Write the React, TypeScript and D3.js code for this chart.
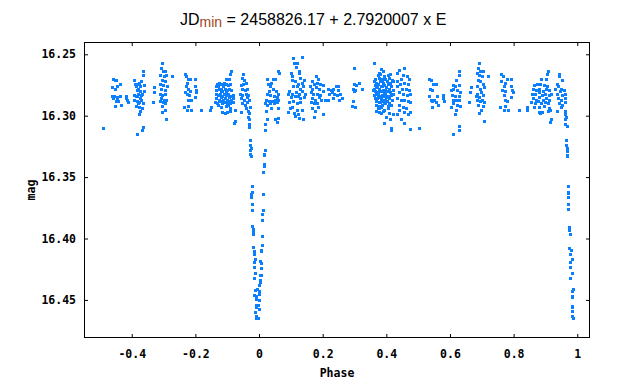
import { useEffect, useRef } from "react"
import * as d3 from "d3"

type Pt = [number, number]

const xTicks = [-0.4, -0.2, 0, 0.2, 0.4, 0.6, 0.8, 1]
const yTicks = [16.25, 16.3, 16.35, 16.4, 16.45]

// phase, mag
const westWing: Pt[] = [
  [-0.490, 16.310],
  [-0.460, 16.270], [-0.453, 16.271], [-0.448, 16.271], [-0.462, 16.277], [-0.454, 16.278],
  [-0.446, 16.276], [-0.438, 16.274], [-0.463, 16.284], [-0.459, 16.286], [-0.451, 16.288],
  [-0.446, 16.286], [-0.442, 16.288], [-0.436, 16.284], [-0.434, 16.291], [-0.452, 16.292],
  [-0.447, 16.285], [-0.457, 16.284], [-0.417, 16.284], [-0.415, 16.287], [-0.412, 16.289],
  [-0.419, 16.286],
  [-0.392, 16.271], [-0.385, 16.274], [-0.378, 16.273], [-0.371, 16.272], [-0.364, 16.264],
  [-0.366, 16.267], [-0.388, 16.276], [-0.381, 16.278], [-0.373, 16.276], [-0.362, 16.275],
  [-0.394, 16.283], [-0.386, 16.284], [-0.380, 16.282], [-0.375, 16.286], [-0.367, 16.282],
  [-0.360, 16.280], [-0.392, 16.287], [-0.383, 16.288], [-0.377, 16.289], [-0.371, 16.287],
  [-0.364, 16.290], [-0.388, 16.292], [-0.378, 16.293], [-0.367, 16.294], [-0.375, 16.296],
  [-0.377, 16.299], [-0.385, 16.284], [-0.383, 16.279], [-0.373, 16.280], [-0.366, 16.309],
  [-0.367, 16.312], [-0.383, 16.315], [-0.391, 16.274], [-0.370, 16.283], [-0.381, 16.290],
  [-0.331, 16.277], [-0.331, 16.281], [-0.334, 16.289],
  [-0.305, 16.257], [-0.308, 16.261], [-0.301, 16.264], [-0.294, 16.264], [-0.310, 16.267],
  [-0.299, 16.268], [-0.291, 16.267], [-0.305, 16.271], [-0.297, 16.272], [-0.310, 16.274],
  [-0.301, 16.275], [-0.289, 16.276], [-0.307, 16.278], [-0.296, 16.279], [-0.312, 16.282],
  [-0.304, 16.283], [-0.294, 16.282], [-0.308, 16.286], [-0.299, 16.287], [-0.291, 16.287],
  [-0.310, 16.288], [-0.301, 16.289], [-0.294, 16.290], [-0.306, 16.292], [-0.297, 16.295],
  [-0.304, 16.297], [-0.292, 16.303], [-0.273, 16.268],
  [-0.233, 16.266], [-0.230, 16.268], [-0.224, 16.270], [-0.226, 16.273], [-0.218, 16.270],
  [-0.202, 16.270], [-0.231, 16.276], [-0.224, 16.278], [-0.218, 16.280], [-0.200, 16.276],
  [-0.199, 16.279], [-0.197, 16.281], [-0.233, 16.281], [-0.226, 16.282], [-0.221, 16.283],
  [-0.215, 16.287], [-0.223, 16.287], [-0.200, 16.285], [-0.236, 16.293], [-0.226, 16.295],
  [-0.213, 16.295], [-0.224, 16.292], [-0.182, 16.295], [-0.153, 16.295], [-0.151, 16.293],
]

const preEclipse: Pt[] = [
  [-0.136, 16.276], [-0.132, 16.274], [-0.125, 16.273], [-0.118, 16.274], [-0.111, 16.273],
  [-0.104, 16.274], [-0.097, 16.275], [-0.090, 16.274], [-0.134, 16.279], [-0.127, 16.278],
  [-0.121, 16.278], [-0.115, 16.280], [-0.108, 16.278], [-0.100, 16.279], [-0.094, 16.278],
  [-0.087, 16.279], [-0.136, 16.282], [-0.130, 16.283], [-0.123, 16.282], [-0.117, 16.284],
  [-0.111, 16.282], [-0.104, 16.283], [-0.097, 16.282], [-0.092, 16.284], [-0.083, 16.283],
  [-0.134, 16.286], [-0.126, 16.287], [-0.120, 16.285], [-0.113, 16.287], [-0.106, 16.286],
  [-0.100, 16.287], [-0.094, 16.285], [-0.088, 16.287], [-0.081, 16.286], [-0.138, 16.289],
  [-0.131, 16.290], [-0.123, 16.288], [-0.116, 16.290], [-0.110, 16.289], [-0.102, 16.290],
  [-0.096, 16.288], [-0.090, 16.290], [-0.083, 16.289], [-0.118, 16.293], [-0.104, 16.292],
  [-0.092, 16.294], [-0.087, 16.264], [-0.090, 16.266], [-0.105, 16.270], [-0.095, 16.270],
  [-0.100, 16.297], [-0.107, 16.298], [-0.115, 16.297], [-0.090, 16.296], [-0.076, 16.295],
  [-0.076, 16.304], [-0.079, 16.306], [-0.128, 16.276], [-0.113, 16.276], [-0.121, 16.280],
  [-0.105, 16.281], [-0.128, 16.291], [-0.097, 16.291],
  [-0.050, 16.266], [-0.055, 16.269], [-0.047, 16.271], [-0.058, 16.275], [-0.050, 16.274],
  [-0.041, 16.273], [-0.054, 16.278], [-0.045, 16.279], [-0.037, 16.278], [-0.060, 16.282],
  [-0.052, 16.283], [-0.041, 16.282], [-0.034, 16.283], [-0.057, 16.286], [-0.048, 16.287],
  [-0.039, 16.285], [-0.031, 16.287], [-0.055, 16.290], [-0.045, 16.291], [-0.037, 16.289],
  [-0.029, 16.293], [-0.041, 16.294], [-0.036, 16.296], [-0.031, 16.298], [-0.034, 16.301],
  [-0.031, 16.303], [-0.031, 16.307], [-0.031, 16.309], [-0.058, 16.297],
]

const primaryDip: Pt[] = [
  [-0.028, 16.320], [-0.028, 16.324], [-0.025, 16.326], [-0.027, 16.328], [-0.028, 16.331],
  [-0.025, 16.333], [-0.022, 16.357], [-0.022, 16.362], [-0.025, 16.364], [-0.025, 16.366],
  [-0.022, 16.372], [-0.022, 16.377], [-0.022, 16.390], [-0.018, 16.392], [-0.018, 16.394],
  [-0.018, 16.396], [-0.018, 16.407], [-0.015, 16.410], [-0.015, 16.413], [-0.012, 16.417],
  [-0.015, 16.419], [-0.015, 16.423], [-0.012, 16.428], [-0.015, 16.432], [-0.012, 16.442],
  [-0.006, 16.441], [0.000, 16.443], [0.000, 16.445], [-0.015, 16.446], [-0.010, 16.447],
  [-0.010, 16.449], [0.000, 16.450], [-0.010, 16.454], [-0.002, 16.454], [-0.011, 16.456],
  [0.000, 16.457], [-0.012, 16.460], [-0.010, 16.463], [-0.008, 16.465], [-0.004, 16.465],
  [0.019, 16.328], [0.016, 16.331], [0.016, 16.332], [0.016, 16.339], [0.016, 16.341],
  [0.013, 16.346], [0.013, 16.364], [0.013, 16.377], [0.010, 16.380], [0.010, 16.385],
  [0.010, 16.398], [0.010, 16.405], [0.007, 16.409], [0.007, 16.410], [0.004, 16.418],
  [0.007, 16.420], [0.007, 16.424], [0.004, 16.430], [0.007, 16.430], [0.004, 16.434],
  [0.004, 16.435], [0.000, 16.438],
]

const postEclipse: Pt[] = [
  [0.060, 16.264], [0.063, 16.265], [0.026, 16.270], [0.045, 16.270], [0.050, 16.270],
  [0.029, 16.274], [0.039, 16.273], [0.036, 16.276], [0.045, 16.278], [0.032, 16.280],
  [0.053, 16.280], [0.060, 16.282], [0.024, 16.282], [0.034, 16.283], [0.047, 16.284],
  [0.055, 16.285], [0.021, 16.287], [0.030, 16.288], [0.040, 16.288], [0.050, 16.287],
  [0.060, 16.287], [0.018, 16.290], [0.026, 16.291], [0.036, 16.290], [0.047, 16.290],
  [0.055, 16.289], [0.021, 16.296], [0.039, 16.294], [0.060, 16.294], [0.024, 16.303],
  [0.050, 16.303], [0.055, 16.305], [0.060, 16.302], [0.019, 16.307], [0.019, 16.312],
  [0.107, 16.253], [0.136, 16.252], [0.109, 16.257], [0.120, 16.257], [0.116, 16.260],
  [0.126, 16.264], [0.126, 16.265], [0.099, 16.265], [0.105, 16.268], [0.130, 16.269],
  [0.141, 16.271], [0.103, 16.271], [0.113, 16.272], [0.123, 16.274], [0.134, 16.273],
  [0.107, 16.276], [0.120, 16.276], [0.128, 16.278], [0.139, 16.276], [0.095, 16.280],
  [0.105, 16.282], [0.116, 16.281], [0.126, 16.282], [0.134, 16.280], [0.092, 16.282],
  [0.102, 16.285], [0.113, 16.284], [0.123, 16.284], [0.130, 16.286], [0.141, 16.285],
  [0.095, 16.289], [0.107, 16.288], [0.118, 16.290], [0.128, 16.289], [0.097, 16.294],
  [0.105, 16.293], [0.120, 16.295], [0.134, 16.295], [0.092, 16.297], [0.109, 16.298],
  [0.113, 16.300], [0.123, 16.299], [0.126, 16.302], [0.137, 16.303], [0.144, 16.282],
  [0.179, 16.268], [0.186, 16.270], [0.165, 16.272], [0.172, 16.274], [0.181, 16.273],
  [0.191, 16.274], [0.202, 16.275], [0.160, 16.276], [0.168, 16.278], [0.179, 16.277],
  [0.189, 16.278], [0.200, 16.280], [0.162, 16.281], [0.170, 16.282], [0.181, 16.282],
  [0.191, 16.283], [0.166, 16.286], [0.177, 16.287], [0.187, 16.285], [0.196, 16.287],
  [0.163, 16.289], [0.172, 16.290], [0.183, 16.290], [0.165, 16.294], [0.175, 16.296],
  [0.200, 16.299], [0.172, 16.301], [0.186, 16.293], [0.207, 16.287],
  [0.217, 16.278], [0.225, 16.279], [0.233, 16.278], [0.242, 16.276], [0.249, 16.279],
  [0.221, 16.282], [0.229, 16.281], [0.237, 16.282], [0.246, 16.283], [0.217, 16.287],
  [0.233, 16.286], [0.252, 16.287], [0.254, 16.282], [0.262, 16.286], [0.250, 16.287],
  [0.247, 16.276],
]

const midPhase: Pt[] = [
  [0.299, 16.261], [0.296, 16.288], [0.292, 16.292], [0.302, 16.293], [0.299, 16.274],
  [0.304, 16.275], [0.296, 16.278], [0.302, 16.279], [0.315, 16.273], [0.323, 16.278],
  [0.299, 16.280], [0.362, 16.257],
  [0.383, 16.262], [0.390, 16.264], [0.376, 16.265], [0.357, 16.279], [0.393, 16.306],
  [0.414, 16.310], [0.414, 16.312], [0.367, 16.296], [0.383, 16.298], [0.399, 16.301],
  [0.411, 16.303], [0.420, 16.299],
  [0.373, 16.267], [0.380, 16.266], [0.393, 16.268], [0.404, 16.267], [0.411, 16.266],
  [0.365, 16.270], [0.376, 16.269], [0.386, 16.271], [0.397, 16.270], [0.407, 16.269],
  [0.418, 16.271], [0.362, 16.272], [0.369, 16.273], [0.380, 16.272], [0.390, 16.273],
  [0.401, 16.272], [0.411, 16.273], [0.420, 16.272], [0.365, 16.275], [0.373, 16.274],
  [0.383, 16.276], [0.393, 16.275], [0.404, 16.274], [0.414, 16.276], [0.362, 16.278],
  [0.369, 16.277], [0.378, 16.278], [0.388, 16.279], [0.399, 16.277], [0.409, 16.278],
  [0.420, 16.279], [0.365, 16.280], [0.374, 16.281], [0.383, 16.280], [0.392, 16.281],
  [0.401, 16.280], [0.411, 16.281], [0.362, 16.283], [0.369, 16.282], [0.378, 16.284],
  [0.386, 16.283], [0.395, 16.282], [0.404, 16.284], [0.414, 16.283], [0.422, 16.282],
  [0.365, 16.286], [0.374, 16.285], [0.382, 16.286], [0.390, 16.287], [0.399, 16.285],
  [0.407, 16.286], [0.418, 16.287], [0.367, 16.288], [0.376, 16.289], [0.384, 16.288],
  [0.393, 16.289], [0.401, 16.288], [0.409, 16.290], [0.369, 16.291], [0.378, 16.292],
  [0.386, 16.291], [0.397, 16.290], [0.405, 16.292], [0.414, 16.291], [0.373, 16.294],
  [0.383, 16.293], [0.393, 16.295], [0.404, 16.294], [0.378, 16.297], [0.390, 16.296],
  [0.409, 16.298], [0.371, 16.277], [0.375, 16.283], [0.380, 16.289], [0.388, 16.284],
  [0.385, 16.270], [0.396, 16.287], [0.371, 16.286], [0.379, 16.280], [0.387, 16.276],
  [0.367, 16.281], [0.395, 16.279], [0.377, 16.294],
  [0.456, 16.261], [0.441, 16.263], [0.435, 16.265], [0.451, 16.267], [0.464, 16.268],
  [0.470, 16.270], [0.446, 16.270], [0.433, 16.272], [0.443, 16.274], [0.456, 16.273],
  [0.467, 16.274], [0.435, 16.276], [0.449, 16.278], [0.462, 16.278], [0.470, 16.279],
  [0.439, 16.281], [0.451, 16.282], [0.464, 16.283], [0.474, 16.282], [0.435, 16.286],
  [0.446, 16.287], [0.456, 16.287], [0.467, 16.288], [0.474, 16.289], [0.441, 16.291],
  [0.451, 16.293], [0.462, 16.294], [0.439, 16.295], [0.456, 16.297], [0.474, 16.297],
  [0.446, 16.303], [0.456, 16.306], [0.474, 16.311], [0.504, 16.310], [0.435, 16.299],
  [0.467, 16.299],
  [0.535, 16.270], [0.540, 16.271], [0.548, 16.274], [0.556, 16.274], [0.538, 16.278],
  [0.545, 16.279], [0.533, 16.284], [0.540, 16.287], [0.551, 16.287], [0.559, 16.284],
  [0.543, 16.288], [0.556, 16.289], [0.545, 16.293], [0.561, 16.291], [0.577, 16.283],
  [0.579, 16.286], [0.582, 16.288],
  [0.629, 16.264], [0.627, 16.267], [0.619, 16.271], [0.608, 16.275], [0.617, 16.276],
  [0.627, 16.275], [0.603, 16.279], [0.610, 16.278], [0.621, 16.279], [0.631, 16.281],
  [0.606, 16.283], [0.617, 16.284], [0.627, 16.284], [0.608, 16.287], [0.619, 16.287],
  [0.629, 16.287], [0.610, 16.290], [0.621, 16.291], [0.603, 16.293], [0.631, 16.292],
  [0.619, 16.295], [0.617, 16.299], [0.627, 16.308], [0.627, 16.312], [0.610, 16.315],
]

const latePhase: Pt[] = [
  [0.690, 16.257], [0.687, 16.261], [0.685, 16.265], [0.695, 16.264], [0.703, 16.264],
  [0.692, 16.267], [0.701, 16.268], [0.688, 16.271], [0.695, 16.272], [0.703, 16.274],
  [0.667, 16.277], [0.685, 16.276], [0.695, 16.278], [0.706, 16.277], [0.664, 16.281],
  [0.685, 16.282], [0.698, 16.281], [0.703, 16.283], [0.682, 16.284], [0.690, 16.285],
  [0.701, 16.287], [0.685, 16.287], [0.695, 16.288], [0.706, 16.289], [0.661, 16.289],
  [0.688, 16.291], [0.703, 16.292], [0.698, 16.295], [0.690, 16.298], [0.706, 16.304],
  [0.720, 16.268],
  [0.761, 16.266], [0.766, 16.268], [0.779, 16.270], [0.793, 16.270], [0.761, 16.272],
  [0.772, 16.273], [0.769, 16.276], [0.793, 16.276], [0.763, 16.279], [0.774, 16.280],
  [0.795, 16.279], [0.797, 16.281], [0.769, 16.283], [0.793, 16.285], [0.774, 16.287],
  [0.779, 16.288], [0.758, 16.293], [0.769, 16.295], [0.772, 16.292], [0.781, 16.295],
  [0.816, 16.295], [0.842, 16.293], [0.843, 16.295],
  [0.887, 16.270], [0.902, 16.270], [0.908, 16.264], [0.905, 16.266], [0.863, 16.275],
  [0.874, 16.274], [0.884, 16.274], [0.894, 16.275], [0.905, 16.276], [0.860, 16.278],
  [0.870, 16.279], [0.881, 16.278], [0.891, 16.280], [0.902, 16.278], [0.912, 16.279],
  [0.858, 16.282], [0.868, 16.282], [0.879, 16.281], [0.889, 16.283], [0.900, 16.282],
  [0.910, 16.283], [0.919, 16.282], [0.860, 16.286], [0.870, 16.287], [0.881, 16.285],
  [0.891, 16.287], [0.902, 16.286], [0.912, 16.287], [0.856, 16.289], [0.866, 16.290],
  [0.877, 16.288], [0.887, 16.290], [0.898, 16.289], [0.908, 16.290], [0.863, 16.293],
  [0.879, 16.293], [0.894, 16.292], [0.910, 16.294], [0.879, 16.297], [0.889, 16.297],
  [0.908, 16.296], [0.915, 16.295], [0.884, 16.298], [0.919, 16.303], [0.915, 16.305],
  [0.944, 16.266], [0.942, 16.268], [0.952, 16.271], [0.936, 16.274], [0.939, 16.276],
  [0.950, 16.278], [0.929, 16.278], [0.947, 16.280], [0.957, 16.279], [0.936, 16.282],
  [0.952, 16.283], [0.963, 16.282], [0.939, 16.286], [0.950, 16.287], [0.960, 16.286],
  [0.942, 16.290], [0.952, 16.291], [0.963, 16.289], [0.936, 16.296], [0.950, 16.293],
  [0.963, 16.296], [0.960, 16.299], [0.965, 16.301], [0.963, 16.303], [0.963, 16.307],
  [0.968, 16.308],
]

const secondDip: Pt[] = [
  [0.966, 16.320], [0.966, 16.324], [0.969, 16.326], [0.969, 16.329], [0.967, 16.332],
  [0.969, 16.333], [0.972, 16.357], [0.972, 16.362], [0.970, 16.363], [0.972, 16.366],
  [0.972, 16.372], [0.972, 16.376], [0.975, 16.391], [0.975, 16.393], [0.977, 16.396],
  [0.975, 16.408], [0.979, 16.409], [0.977, 16.413], [0.982, 16.417], [0.977, 16.419],
  [0.978, 16.423], [0.982, 16.428], [0.978, 16.432], [0.982, 16.443], [0.986, 16.441],
  [0.982, 16.447], [0.984, 16.448], [0.985, 16.455], [0.985, 16.456], [0.982, 16.459],
  [0.985, 16.463], [0.988, 16.465],
]

const points = [...westWing, ...preEclipse, ...primaryDip, ...postEclipse, ...midPhase, ...latePhase, ...secondDip]

const monoFont = "'DejaVu Sans Mono', monospace"

const App = () => {
  const ref = useRef<SVGSVGElement>(null)

  useEffect(() => {
    const svg = d3.select(ref.current)
    svg.selectAll("*").remove()

    const left = 84, right = 590, top = 42, bottom = 338
    const x = d3.scaleLinear().domain([-0.55, 1.04]).range([left, right])
    const y = d3.scaleLinear().domain([16.24, 16.481]).range([top, bottom])

    svg.append("rect").attr("width", 640).attr("height", 391).attr("fill", "#fff")

    // points
    svg.append("g")
      .selectAll("rect")
      .data(points)
      .join("rect")
      .attr("x", d => Math.round(x(d[0])) - 1)
      .attr("y", d => Math.round(y(d[1])) - 1)
      .attr("width", 3)
      .attr("height", 3)
      .attr("fill", "#0a80ff")

    const styleAxis = (g: any) => {
      g.select(".domain").remove()
      g.selectAll("line").attr("stroke", "#000")
      g.selectAll("text")
        .attr("font-family", monoFont)
        .attr("font-weight", "bold")
        .attr("font-size", 11.5)
        .attr("fill", "#000")
    }

    svg.append("g")
      .attr("transform", `translate(0,${bottom})`)
      .call(d3.axisBottom(x).tickValues(xTicks).tickSize(-4).tickPadding(12).tickFormat(d => String(d)))
      .call(styleAxis)
    svg.append("g")
      .attr("transform", `translate(0,${top})`)
      .call(d3.axisTop(x).tickValues(xTicks).tickSize(-4).tickFormat(() => ""))
      .call(styleAxis)
    svg.append("g")
      .attr("transform", `translate(${left},0)`)
      .call(d3.axisLeft(y).tickValues(yTicks).tickSize(-4).tickPadding(8).tickFormat(d3.format(".2f")))
      .call(styleAxis)
    svg.append("g")
      .attr("transform", `translate(${right},0)`)
      .call(d3.axisRight(y).tickValues(yTicks).tickSize(-4).tickFormat(() => ""))
      .call(styleAxis)

    svg.append("rect")
      .attr("x", left + 0.5).attr("y", top + 0.5)
      .attr("width", right - left - 1).attr("height", bottom - top - 1)
      .attr("fill", "none").attr("stroke", "#000")

    svg.append("text")
      .attr("x", (left + right) / 2).attr("y", 377)
      .attr("text-anchor", "middle")
      .attr("font-family", monoFont).attr("font-weight", "bold").attr("font-size", 11.5)
      .text("Phase")

    svg.append("text")
      .attr("transform", `translate(35,${(top + bottom) / 2}) rotate(-90)`)
      .attr("text-anchor", "middle")
      .attr("font-family", monoFont).attr("font-weight", "bold").attr("font-size", 11.5)
      .text("mag")

    const title = svg.append("text")
      .attr("x", 180).attr("y", 25)
      .attr("font-family", "'Liberation Sans', Arial, sans-serif")
      .attr("font-size", 16)
    title.append("tspan").text("JD")
    title.append("tspan").attr("font-size", 14).attr("dy", 1.5).attr("fill", "#a0461e").text("min")
    title.append("tspan").attr("dy", -1.5).text(" = 2458826.17 + 2.7920007 x E")
  }, [])

  return (
    <svg ref={ref} width={640} height={391} style={{ position: "absolute", left: 0, top: 0 }} />
  )
}

export default App
